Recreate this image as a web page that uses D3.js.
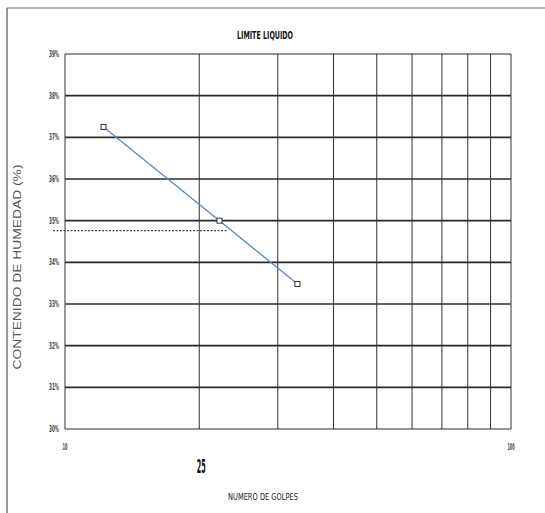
<!DOCTYPE html>
<html><head><meta charset="utf-8">
<script src="https://cdn.jsdelivr.net/npm/d3@7/dist/d3.min.js"></script>
<style>body{margin:0;background:#fff}svg{display:block}</style>
</head><body>
<svg id="c" width="545" height="513"></svg>
<script>
const golpes = [12.2, 22.2, 33.2];
const humedad = [37.25, 35.0, 33.48];
const limiteLiquido = 34.76;
const limiteRange = [9.4, 23.2];
const yTicks = [30,31,32,33,34,35,36,37,38,39];
const xGrid = [10,20,30,40,50,60,70,80,90,100];
const xTickLabels = [10, 100];
const marca = 25;

const svg = d3.select("#c");
const x = d3.scaleLog().domain([10,100]).range([65,511]);
const y = d3.scaleLinear().domain([30,39]).range([429,54]);

// frame
svg.append("line").attr("x1",7).attr("x2",545).attr("y1",8).attr("y2",8).attr("stroke","#666").attr("stroke-width",1);
svg.append("line").attr("x1",7).attr("x2",7).attr("y1",8).attr("y2",513).attr("stroke","#555").attr("stroke-width",1.2);

// title
svg.append("text").attr("x",265).attr("y",39).attr("text-anchor","middle")
  .attr("font-family","DejaVu Sans Condensed").attr("font-weight","bold").attr("font-size",11)
  .attr("textLength",56).attr("lengthAdjust","spacingAndGlyphs").attr("fill","#111").text("LIMITE LIQUIDO");

// vertical grid
svg.append("g").selectAll("line").data(xGrid).join("line")
  .attr("x1",d=>x(d)).attr("x2",d=>x(d)).attr("y1",y(39)).attr("y2",y(30))
  .attr("stroke","#333").attr("stroke-width",1);
// horizontal grid
svg.append("g").selectAll("line").data(yTicks).join("line")
  .attr("x1",x(10)).attr("x2",x(100)).attr("y1",d=>y(d)).attr("y2",d=>y(d))
  .attr("stroke","#2a2a2a").attr("stroke-width",d=>(d===30||d===39)?1.2:1.6);

// y tick labels
svg.append("g").selectAll("text").data(yTicks).join("text")
  .attr("x",59).attr("y",d=>y(d)+3).attr("text-anchor","end")
  .attr("font-family","DejaVu Sans Condensed").attr("font-weight","bold").attr("font-size",8)
  .attr("textLength",10).attr("lengthAdjust","spacingAndGlyphs").attr("fill","#444").text(d=>d+"%");

// x tick labels
svg.append("g").selectAll("text").data(xTickLabels).join("text")
  .attr("x",d=>x(d)).attr("y",450).attr("text-anchor","middle")
  .attr("font-family","DejaVu Sans Condensed").attr("font-weight","bold").attr("font-size",8)
  .attr("textLength",d=>d===100?7:5).attr("lengthAdjust","spacingAndGlyphs").attr("fill","#444").text(d=>d);

// "25" annotation
svg.append("text").attr("x",x(20)+2).attr("y",473).attr("text-anchor","middle")
  .attr("font-family","DejaVu Sans Condensed").attr("font-weight","bold").attr("font-size",20)
  .attr("textLength",9).attr("lengthAdjust","spacingAndGlyphs").attr("fill","#111").text(marca);

// axis titles
svg.append("text").attr("x",263).attr("y",500).attr("text-anchor","middle")
  .attr("font-family","DejaVu Sans Condensed").attr("font-size",9)
  .attr("textLength",70).attr("lengthAdjust","spacingAndGlyphs").attr("fill","#222").text("NUMERO DE GOLPES");
svg.append("text").attr("transform","translate(21,267) rotate(-90)").attr("text-anchor","middle")
  .attr("font-family","Liberation Sans").attr("font-size",10)
  .attr("textLength",205).attr("lengthAdjust","spacingAndGlyphs").attr("fill","#555").text("CONTENIDO DE HUMEDAD (%)");

// dotted limit line
svg.append("line").attr("x1",x(limiteRange[0])).attr("x2",x(limiteRange[1]))
  .attr("y1",y(limiteLiquido)).attr("y2",y(limiteLiquido))
  .attr("stroke","#444").attr("stroke-width",1.2).attr("stroke-dasharray","2,1.5");

// data line
const pts = golpes.map((g,i)=>[g,humedad[i]]);
svg.append("path").datum(pts)
  .attr("d",d3.line().x(d=>x(d[0])).y(d=>y(d[1])))
  .attr("fill","none").attr("stroke","#5b87b8").attr("stroke-width",1.3);
svg.append("g").selectAll("rect").data(pts).join("rect")
  .attr("x",d=>x(d[0])-2.5).attr("y",d=>y(d[1])-2.5).attr("width",5).attr("height",5)
  .attr("fill","#fff").attr("stroke","#333").attr("stroke-width",1);
</script>
</body></html>
